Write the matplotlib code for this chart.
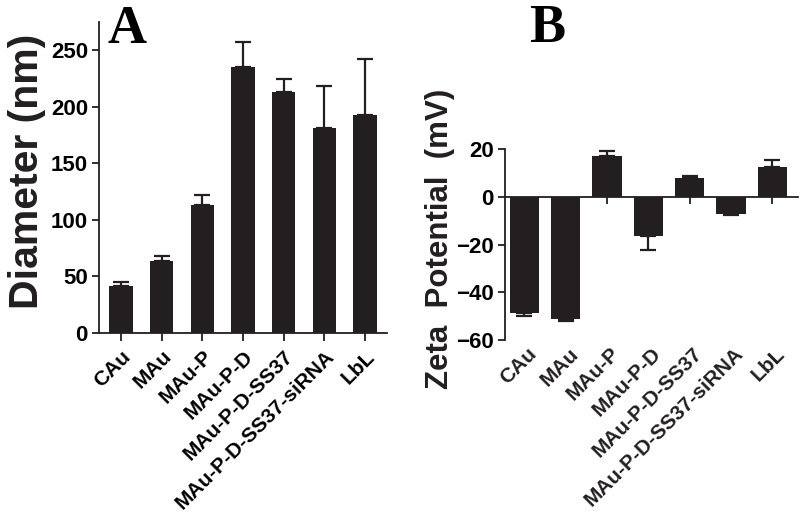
import matplotlib
matplotlib.use("Agg")
import matplotlib.pyplot as plt
import matplotlib.transforms as mtransforms
import numpy as np

categories = ["CAu", "MAu", "MAu-P", "MAu-P-D", "MAu-P-D-SS37",
              "MAu-P-D-SS37-siRNA", "LbL"]
diameter = [42, 64, 113, 235, 213, 181, 193]
diameter_err = [3, 4.5, 9, 22, 12, 37, 49]
zeta = [-48.6, -51.4, 17.0, -16.2, 8.0, -7.1, 12.6]
zeta_err = [1.2, 0.6, 2.1, 5.9, 0.9, 0.3, 3.0]

diam_ticks = [0, 50, 100, 150, 200, 250]
zeta_ticks = [-60, -40, -20, 0, 20]

bar_color = "#231f20"
sans = ["Liberation Sans", "DejaVu Sans"]
serif = ["Liberation Serif", "DejaVu Serif"]

plt.rcParams["font.family"] = sans
plt.rcParams["font.weight"] = "bold"

fig = plt.figure(figsize=(8.0, 5.19), dpi=100)

x = np.arange(len(categories))

# ---------- Panel A ----------
axA = fig.add_axes([99 / 800, 1 - 333 / 519, (387 - 99) / 800, (333 - 22) / 519])
axA.bar(x, diameter, width=0.57, color=bar_color, zorder=2)
axA.errorbar(x, diameter, yerr=[np.zeros(len(x)), diameter_err], fmt="none",
             ecolor=bar_color, elinewidth=1.6, capsize=6, capthick=1.6, zorder=1)
axA.set_xlim(-0.54, 6.54)
axA.set_ylim(0, 275)
axA.set_yticks(diam_ticks)
axA.set_xticks(x)
axA.set_xticklabels(categories, rotation=45, ha="right", rotation_mode="anchor",
                    fontsize=15, fontweight="bold")
for lab in axA.get_yticklabels():
    lab.set_fontsize(16)
    lab.set_fontweight("bold")
axA.spines["top"].set_visible(False)
axA.spines["right"].set_visible(False)
for s in ("left", "bottom"):
    axA.spines[s].set_linewidth(1.3)
    axA.spines[s].set_color(bar_color)
axA.tick_params(axis="both", width=1.3, length=5, color=bar_color, pad=3)
axA.tick_params(axis="x", length=6, pad=4)

fig.text(27 / 800, 1 - 171 / 519, "Diameter (nm)", rotation=90, ha="center",
         va="center", fontsize=29.5, fontweight="bold", color=bar_color)
fig.text(127 / 800, 1 - 43 / 519, "A", ha="center", va="baseline",
         fontsize=39, fontweight="bold", family=serif, color="black")

# ---------- Panel B ----------
axB = fig.add_axes([505 / 800, 1 - 340 / 519, (798 - 505) / 800, (340 - 149.3) / 519])
axB.bar(x, zeta, width=0.71, color=bar_color, zorder=2)
lower = [e if v < 0 else 0 for v, e in zip(zeta, zeta_err)]
upper = [e if v >= 0 else 0 for v, e in zip(zeta, zeta_err)]
axB.errorbar(x, zeta, yerr=[lower, upper], fmt="none", ecolor=bar_color,
             elinewidth=1.6, capsize=6, capthick=1.6, zorder=1)
axB.set_xlim(-0.47, 6.62)
axB.set_ylim(-60, 20)
axB.set_yticks(zeta_ticks)
axB.set_xticks(x)
axB.spines["bottom"].set_position(("data", 0))
axB.spines["top"].set_visible(False)
axB.spines["right"].set_visible(False)
for s in ("left", "bottom"):
    axB.spines[s].set_linewidth(1.3)
    axB.spines[s].set_color(bar_color)
axB.tick_params(axis="both", width=1.3, length=5, color=bar_color, pad=3)
axB.tick_params(axis="x", labelbottom=False, length=5)
for lab in axB.get_yticklabels():
    lab.set_fontsize(16)
    lab.set_fontweight("bold")

trans = mtransforms.offset_copy(axB.get_xaxis_transform(), fig=fig,
                                x=3, y=-4, units="dots")
for i, lab in enumerate(categories):
    axB.text(i, 0, lab, transform=trans, rotation=45, ha="right", va="top",
             rotation_mode="anchor", fontsize=15, fontweight="bold",
             color=bar_color)

fig.text(440 / 800, 1 - 239 / 519, "Zeta  Potential  (mV)", rotation=90,
         ha="center", va="center", fontsize=22.5, fontweight="bold",
         color=bar_color)
fig.text(547 / 800, 1 - 42 / 519, "B", ha="center", va="baseline",
         fontsize=39, fontweight="bold", family=serif, color="black")

fig.savefig("out.png", dpi=100)
